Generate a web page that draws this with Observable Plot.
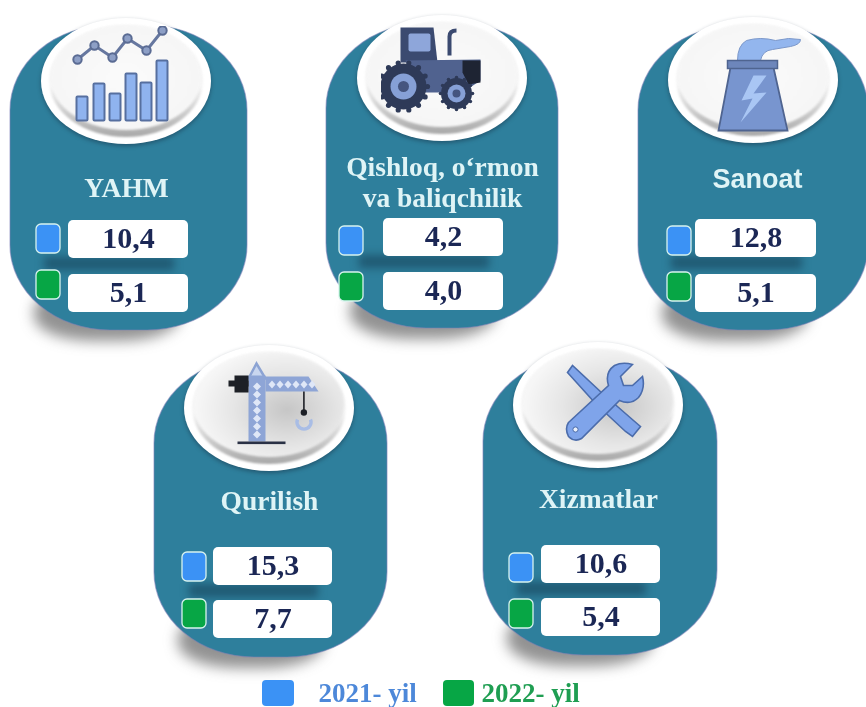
<!DOCTYPE html>
<html>
<head>
<meta charset="utf-8">
<script src="https://cdn.jsdelivr.net/npm/d3@7"></script>
<script src="https://cdn.jsdelivr.net/npm/@observablehq/plot@0.6"></script>
<style>
html,body{margin:0;padding:0;background:#fff;overflow:hidden}
svg{display:block;filter:blur(0.6px)}
</style>
</head>
<body>
<script>
// values
const categories = ["YAHM", "Qishloq, o‘rmon\nva baliqchilik", "Sanoat", "Qurilish", "Xizmatlar"];
const values2021 = [10.4, 4.2, 12.8, 15.3, 10.6];
const values2022 = [5.1, 4.0, 5.1, 7.7, 5.4];
const seriesNames = ["2021- yil", "2022- yil"];
const seriesColors = ["#3b92f5", "#07a645"];
const legendTextColors = ["#4d88d9", "#1f9e52"];

// layout, in the picture's own pixel units
const panelLeft = [10, 326, 638, 154, 483];
const panelRight = [247, 558, 868, 387, 717];
const panelTop = [25, 23, 25, 358, 356];
const panelBottom = [330, 328, 330, 657, 655];
const discCx = [126, 442, 753, 269, 598];
const discCy = [81, 78, 80, 408, 405];
const titleY = [186, 181, 179, 499, 497];
const swatchLeft = [36, 339, 667, 182, 509];
const boxLeft = [68, 383, 695, 213, 541];
const boxRight = [188, 503, 816, 332, 660];
const rowTop2021 = [220, 218, 219, 547, 545];
const rowTop2022 = [274, 272, 274, 600, 598];
const swatchTop2021 = [224, 226, 226, 552, 553];
const swatchTop2022 = [270, 272, 272, 599, 599];

const panels = categories.map((name, i) => ({
  name, i,
  left: panelLeft[i], right: panelRight[i], top: panelTop[i], bottom: panelBottom[i],
  cx: discCx[i], cy: discCy[i], titleY: titleY[i]
}));
const rows = categories.flatMap((name, i) => [
  {series: seriesNames[0], value: values2021[i], boxTop: rowTop2021[i], swTop: swatchTop2021[i], i},
  {series: seriesNames[1], value: values2022[i], boxTop: rowTop2022[i], swTop: swatchTop2022[i], i}
]);
const legendItems = [
  {series: seriesNames[0], x1: 262, x2: 294, tx: 318, color: legendTextColors[0]},
  {series: seriesNames[1], x1: 443, x2: 474, tx: 481, color: legendTextColors[1]}
];

const fmt = v => v.toFixed(1).replace(".", ",");

// pictograms (decoration only)
const svgUri = (vb, w, h, body) => "data:image/svg+xml;utf8," + encodeURIComponent(
  `<svg xmlns="http://www.w3.org/2000/svg" viewBox="${vb}" width="${w}" height="${h}">${body}</svg>`);

const barBody = [[76,96],[93,83],[109,93],[125,73],[140,82],[156,60]]
  .map(([x, t]) => `<rect x="${x}" y="${t}" width="11" height="${120 - t}" rx="1" fill="#8fb3ef" stroke="#566f9f" stroke-width="2"/>`).join("");
const linePts = [[77,59],[94,45],[112,57],[127,38],[146,50],[162,30]];
const chartIcon = svgUri("70 25 100 100", 100, 100, barBody +
  `<polyline points="${linePts.join(" ")}" fill="none" stroke="#66779f" stroke-width="3"/>` +
  linePts.map(([x, y]) => `<circle cx="${x}" cy="${y}" r="4.2" fill="#8d9fc6" stroke="#5a6b93" stroke-width="2"/>`).join(""));

const gear = (cx, cy, r, n) => d3.range(n).map(k => {
  const a = k * 2 * Math.PI / n;
  return `<circle cx="${(cx + r * Math.cos(a)).toFixed(1)}" cy="${(cy + r * Math.sin(a)).toFixed(1)}" r="${(r * 0.11).toFixed(1)}" fill="#2e3a58"/>`;
}).join("");
const tractorIcon = svgUri("380 20 110 100", 110, 100,
  `<path d="M400 27H433L437 62H400Z" fill="#3b4a70"/><rect x="408" y="33" width="22" height="18" rx="2" fill="#8ea6da"/>` +
  `<path d="M449 55V36Q449 30 456 30" fill="none" stroke="#3b4a70" stroke-width="4"/>` +
  `<path d="M405 60L480 59V80L462 92H425Z" fill="#50628f"/><path d="M462 60H480V82L468 84L462 72Z" fill="#1e2433"/>` +
  gear(403, 86, 24, 14) + `<circle cx="403" cy="86" r="23" fill="#2e3a58"/><circle cx="403" cy="86" r="13" fill="#86a0d6"/><circle cx="403" cy="86" r="5.5" fill="#45557f"/>` +
  gear(456, 93, 16, 12) + `<circle cx="456" cy="93" r="15.5" fill="#2e3a58"/><circle cx="456" cy="93" r="9" fill="#86a0d6"/><circle cx="456" cy="93" r="4" fill="#45557f"/>`);

const plantIcon = svgUri("710 25 100 110", 100, 110,
  `<path d="M737 60Q737 45 746 40Q760 36 775 40L788 38L800 39Q800 44 790 46L772 49Q762 50 760 60Z" fill="#93b6ee" stroke="#7b97c9" stroke-width="1"/>` +
  `<path d="M730 67H773L787 130H718Z" fill="#7895cf" stroke="#4f6490" stroke-width="1.8"/>` +
  `<rect x="727" y="60" width="50" height="8" fill="#6d86bb" stroke="#4f6490" stroke-width="1.5"/>` +
  `<path d="M753 75L741 100L752 98L740 122L766 92L753 93L766 75Z" fill="#a9c6f4"/>`);

const mast = d3.range(7).map(k => `<path d="M256.5 ${382 + k * 8}l4 4l-4 4l-4 -4Z" fill="#dfe7f7"/>`).join("");
const jib = d3.range(6).map(k => `<path d="M${268 + k * 8} 384l3.5 -4l3.5 4l-3.5 4Z" fill="#dfe7f7"/>`).join("");
const craneIcon = svgUri("220 355 110 95", 110, 95,
  `<path d="M248 378L256 363L265 378Z" fill="#c9d6ef" stroke="#8ca3d3" stroke-width="2.5"/>` +
  `<rect x="248" y="375" width="17" height="66" fill="#8ea5d6"/>` + mast +
  `<path d="M265 376H308L318 391H265Z" fill="#8ea5d6"/>` + jib +
  `<rect x="234" y="375" width="14" height="17" fill="#1d2026"/><rect x="228" y="380" width="20" height="6" fill="#1d2026"/>` +
  `<rect x="237" y="441" width="48" height="2.6" fill="#2a3145"/>` +
  `<rect x="302.6" y="391" width="1.6" height="22" fill="#1d2026"/><circle cx="303.4" cy="412" r="3.2" fill="#1d2026"/>` +
  `<path d="M297 419A7 7 0 1 0 310 419" fill="none" stroke="#a9bde5" stroke-width="3.4"/>`);

const toolsIcon = svgUri("555 355 90 90", 90, 90,
  `<path d="M567 372L572 365L602 393L633 420L640 426L632 436L625 431L595 403Z" fill="#7fa4ea" stroke="#4b6cab" stroke-width="1.6"/>` +
  `<path d="M568 422L608 385Q604 372 614 365Q622 361 632 364L620 376L623 385L632 385L642 376Q645 388 638 397Q630 405 619 400L581 438Q574 442 568 436Q564 428 568 422Z" fill="#7fa4ea" stroke="#4b6cab" stroke-width="1.6"/>` +
  `<circle cx="575" cy="429" r="2.6" fill="#e9effa" stroke="#4b6cab" stroke-width="1"/>`);
const icons = [
  {i: 0, src: chartIcon, x: 120, y: 75, w: 100, h: 100},
  {i: 1, src: tractorIcon, x: 435, y: 70, w: 110, h: 100},
  {i: 2, src: plantIcon, x: 760, y: 80, w: 100, h: 110},
  {i: 3, src: craneIcon, x: 275, y: 402.5, w: 110, h: 95},
  {i: 4, src: toolsIcon, x: 600, y: 400, w: 90, h: 90}
];

const serif = "'Liberation Serif', 'Times New Roman', serif";
const sans = "'Liberation Sans', Arial, sans-serif";
const isSans = d => d.name === "Sanoat";

const defs = () => {
  const g = document.createElementNS("http://www.w3.org/2000/svg", "defs");
  g.innerHTML = `
  <linearGradient id="rim" x1="0" y1="0" x2="0" y2="1">
    <stop offset="0.55" stop-color="#f6f6f6"/><stop offset="1" stop-color="#a8a8a8"/>
  </linearGradient>
  <radialGradient id="faceA" cx="0.5" cy="0.5" r="0.6">
    <stop offset="0" stop-color="#fbfbfb"/><stop offset="1" stop-color="#f5f5f5"/>
  </radialGradient>
  <radialGradient id="faceB" cx="0.62" cy="0.55" r="0.6">
    <stop offset="0" stop-color="#c6c6c6"/><stop offset="0.6" stop-color="#e6e6e6"/><stop offset="1" stop-color="#f6f6f6"/>
  </radialGradient>`;
  return g;
};

const chart = Plot.plot({
  width: 866, height: 707,
  margin: 0,
  x: {domain: [0, 866], range: [0, 866], axis: null},
  y: {domain: [0, 707], range: [0, 707], axis: null},
  color: {domain: seriesNames, range: seriesColors},
  style: {background: "#fff"},
  marks: [
    defs,
    // ground shadow
    Plot.rect(panels, {
      x1: d => d.left + 24, x2: d => d.left + 170,
      y1: d => d.bottom - 45, y2: d => d.bottom + 11,
      rx: 60, ry: 25, fill: "#4a4a4a", fillOpacity: 0.6, imageFilter: "blur(7px)"
    }),
    // body
    Plot.rect(panels, {
      x1: "left", x2: "right", y1: "top", y2: "bottom",
      rx: 100, ry: 85, fill: "#2e7f9c", stroke: "#7d80b8", strokeOpacity: 0.55, strokeWidth: 1.2
    }),
    // band under the first row
    Plot.rect(panels.map((d, i) => ({x1: boxLeft[i] - 24, x2: boxRight[i] - 14, y1: rowTop2021[i] + 37, y2: rowTop2021[i] + 50})), {
      x1: "x1", x2: "x2", y1: "y1", y2: "y2", fill: "#174258", fillOpacity: 0.62, imageFilter: "blur(4px)"
    }),
    // disc
    Plot.rect(panels, {
      x1: d => d.cx - 85, x2: d => d.cx + 85, y1: d => d.cy - 63, y2: d => d.cy + 63,
      rx: 85, ry: 63, fill: "#fff", imageFilter: "drop-shadow(0 2px 2px rgba(20,40,60,.45))"
    }),
    Plot.rect(panels, {
      x1: d => d.cx - 77, x2: d => d.cx + 77, y1: d => d.cy - 56, y2: d => d.cy + 56,
      rx: 77, ry: 56, fill: "url(#rim)", imageFilter: "blur(1px)"
    }),
    Plot.rect(panels.filter(d => d.i < 3), {
      x1: d => d.cx - 75, x2: d => d.cx + 75, y1: d => d.cy - 56, y2: d => d.cy + 49,
      rx: 75, ry: 52, fill: "url(#faceA)", imageFilter: "blur(1px)"
    }),
    Plot.rect(panels.filter(d => d.i >= 3), {
      x1: d => d.cx - 75, x2: d => d.cx + 75, y1: d => d.cy - 56, y2: d => d.cy + 49,
      rx: 75, ry: 52, fill: "url(#faceB)", imageFilter: "blur(1px)"
    }),
    // pictograms
    Plot.image(icons, {x: "x", y: "y", width: "w", height: "h", src: "src"}),
    // titles
    Plot.text(panels.filter(d => !isSans(d)), {
      x: "cx", y: "titleY", text: "name", fill: "#dff4f6", fontFamily: serif,
      fontWeight: 700, fontSize: 27.5, lineHeight: 1.15, textAnchor: "middle"
    }),
    Plot.text(panels.filter(isSans), {
      x: d => d.cx + 4, y: "titleY", text: "name", fill: "#dff4f6", fontFamily: sans,
      fontWeight: 700, fontSize: 27, textAnchor: "middle"
    }),
    // swatches
    Plot.rect(rows, {
      x1: d => swatchLeft[d.i], x2: d => swatchLeft[d.i] + 24,
      y1: "swTop", y2: d => d.swTop + 29,
      rx: 5, ry: 5, fill: "series", stroke: "#d8f3ee", strokeWidth: 1.3
    }),
    // value boxes
    Plot.rect(rows, {
      x1: d => boxLeft[d.i], x2: d => boxRight[d.i],
      y1: "boxTop", y2: d => d.boxTop + 38,
      rx: 5, ry: 5, fill: "#fff", imageFilter: "blur(0.5px)"
    }),
    Plot.text(rows, {
      x: d => (boxLeft[d.i] + boxRight[d.i]) / 2,
      y: d => d.boxTop + 18,
      text: d => fmt(d.value), fill: "#1b2755", fontFamily: serif, fontWeight: 700,
      fontSize: 30, textAnchor: "middle"
    }),
    // legend
    Plot.rect(legendItems, {
      x1: "x1", x2: "x2", y1: () => 680, y2: () => 706, rx: 4, ry: 4, fill: "series"
    }),
    Plot.text(legendItems, {
      x: "tx", y: () => 693, text: "series", fill: "color", fontFamily: serif, fontWeight: 700,
      fontSize: 27, textAnchor: "start"
    })
  ]
});
document.body.appendChild(chart);
</script>
</body>
</html>
